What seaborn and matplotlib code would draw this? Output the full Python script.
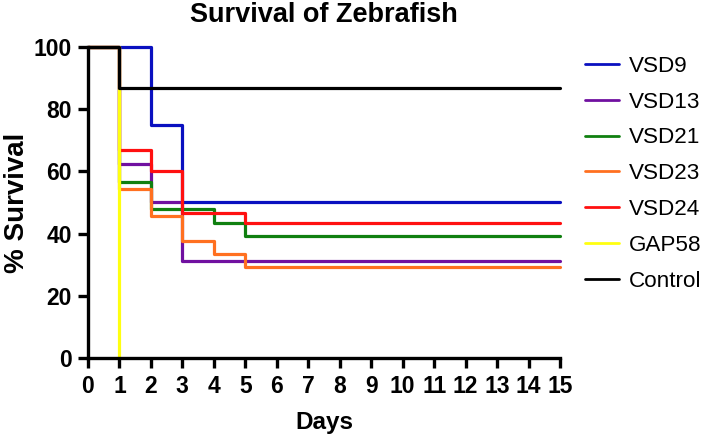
import pandas as pd
import matplotlib.pyplot as plt
import seaborn as sns

# survival steps: (day, % survival)
days_vsd9 = [0, 2, 3, 15]
surv_vsd9 = [100, 75, 50, 50]
days_vsd13 = [0, 1, 2, 3, 15]
surv_vsd13 = [100, 62.5, 50, 31.25, 31.25]
days_vsd21 = [0, 1, 2, 4, 5, 15]
surv_vsd21 = [100, 56.5, 47.8, 43.5, 39.1, 39.1]
days_vsd23 = [0, 1, 2, 3, 4, 5, 15]
surv_vsd23 = [100, 54.2, 45.8, 37.5, 33.3, 29.2, 29.2]
days_vsd24 = [0, 1, 2, 3, 5, 15]
surv_vsd24 = [100, 66.7, 60, 46.7, 43.3, 43.3]
days_gap58 = [0, 1]
surv_gap58 = [100, 0]
days_control = [0, 1, 15]
surv_control = [100, 86.7, 86.7]

groups = ['VSD9', 'VSD13', 'VSD21', 'VSD23', 'VSD24', 'GAP58', 'Control']
all_days = [days_vsd9, days_vsd13, days_vsd21, days_vsd23, days_vsd24, days_gap58, days_control]
all_surv = [surv_vsd9, surv_vsd13, surv_vsd21, surv_vsd23, surv_vsd24, surv_gap58, surv_control]
colors = ['#0a10c0', '#7010a0', '#108010', '#ff7020', '#ff1010', '#ffff10', '#000000']

rows = []
for g, d, s in zip(groups, all_days, all_surv):
    for dd, ss in zip(d, s):
        rows.append({'day': dd, 'survival': ss, 'group': g})
df = pd.DataFrame(rows)

sns.set_style('ticks')
plt.rcParams['font.family'] = ['Liberation Sans', 'DejaVu Sans']
plt.rcParams['text.color'] = 'black'
plt.rcParams['axes.labelcolor'] = 'black'
plt.rcParams['xtick.color'] = 'black'
plt.rcParams['ytick.color'] = 'black'
plt.rcParams['axes.edgecolor'] = 'black'

fig = plt.figure(figsize=(7.09, 4.34), dpi=100)
ax = fig.add_axes([0.124, 0.175, 0.666, 0.717])

sns.lineplot(data=df, x='day', y='survival', hue='group', hue_order=groups,
             palette=dict(zip(groups, colors)), drawstyle='steps-post',
             estimator=None, sort=False, linewidth=2.3, ax=ax, clip_on=False)

ax.set_xlim(0, 15)
ax.set_ylim(0, 100)
ax.set_xticks(range(0, 16))
ax.set_yticks(range(0, 101, 20))
sns.despine(ax=ax)
for sp in ['left', 'bottom']:
    ax.spines[sp].set_linewidth(2.4)
ax.tick_params(width=2.4, length=7.5, labelsize=16.5, pad=4)
ax.tick_params(axis='x', pad=5)
for lab in ax.get_xticklabels() + ax.get_yticklabels():
    lab.set_fontweight('bold')

ax.set_xlabel('Days', fontsize=17.5, fontweight='bold', labelpad=9)
ax.set_ylabel('% Survival', fontsize=20, fontweight='bold', labelpad=3)
ax.set_title('Survival of Zebrafish', fontsize=19.5, fontweight='bold', pad=18)

handles, labels = ax.get_legend_handles_labels()
for h in handles:
    h.set_linewidth(2.0)
ax.legend(handles, labels, loc='upper left', bbox_to_anchor=(1.025, 1.015),
          frameon=False, fontsize=16.2, handlelength=1.5, handletextpad=0.45,
          labelspacing=0.66, borderaxespad=0.2)

plt.savefig('out.png', dpi=100)
